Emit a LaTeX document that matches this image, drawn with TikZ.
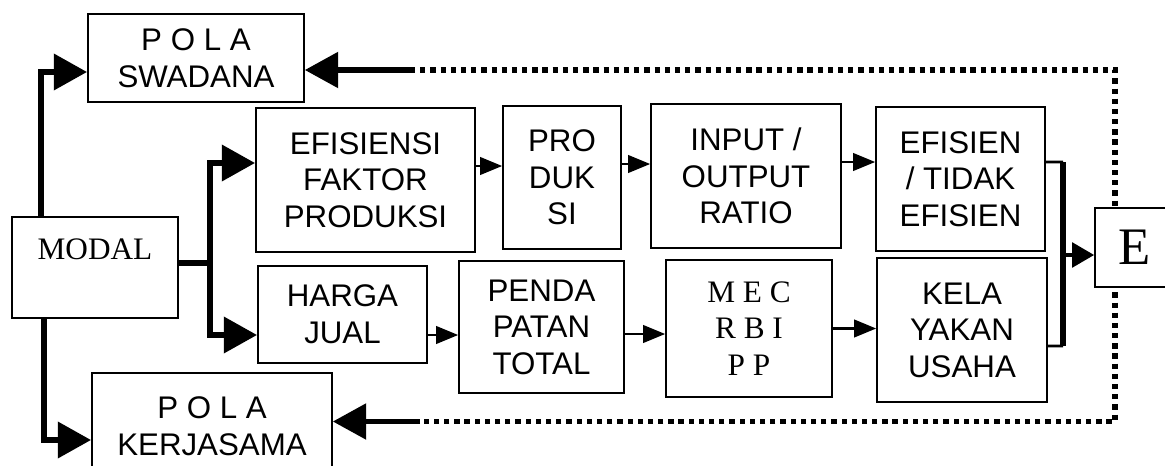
\documentclass[tikz,border=0pt]{standalone}
\usepackage{fontspec}
\setmainfont{Liberation Sans}
\newfontfamily\timesfont{Liberation Serif}
\usetikzlibrary{arrows.meta,positioning}

\begin{document}
\begin{tikzpicture}[x=0.02cm,y=-0.02cm,
  box/.style={draw, line width=1pt, fill=white, align=center, inner sep=0pt, font=\fontsize{17.8}{20.8}\selectfont},
  fat/.style={line width=3.8pt, -{Triangle[length=19pt,width=20pt]}},
  feed/.style={line width=3pt, -{Triangle[length=19pt,width=20pt]}},
  thin/.style={line width=1.2pt, -{Triangle[length=12.5pt,width=10pt]}},
  dots/.style={line width=3pt, dash pattern=on 3pt off 2.8pt}]
  \clip (0,0) rectangle (1165,466);

  % left column
  \node[box, minimum width=4.32cm, minimum height=1.76cm] (swadana) at (196,58) {P O L A\\SWADANA};
  \node[box, minimum width=3.32cm, minimum height=2.02cm, font=\timesfont\fontsize{17.8}{20.8}\selectfont] (modal) at (95,267.5) {MODAL\\\mbox{}};
  \node[box, minimum width=4.8cm, minimum height=2.14cm] (kerjasama) at (212,426.5) {P O L A\\KERJASAMA};

  % upper row
  \node[box, minimum width=4.38cm, minimum height=2.88cm] (efisiensi) at (365.5,180) {EFISIENSI\\FAKTOR\\PRODUKSI};
  \node[box, minimum width=2.36cm, minimum height=2.86cm] (produksi) at (562,177.5) {PRO\\DUK\\SI};
  \node[box, minimum width=3.8cm, minimum height=2.88cm] (ratio) at (746,176) {INPUT /\\OUTPUT\\RATIO};
  \node[box, minimum width=3.38cm, minimum height=2.88cm] (efisien) at (960.5,179) {EFISIEN\\/ TIDAK\\EFISIEN};

  % lower row
  \node[box, minimum width=3.38cm, minimum height=1.94cm] (harga) at (342.5,314.5) {HARGA\\JUAL};
  \node[box, minimum width=3.3cm, minimum height=2.64cm] (pendapatan) at (541.5,327) {PENDA\\PATAN\\TOTAL};
  \node[box, minimum width=3.32cm, minimum height=2.74cm, font=\timesfont\fontsize{17.8}{20.8}\selectfont] (mec) at (749,328.5) {M E C\\R B I\\P P};
  \node[box, minimum width=3.4cm, minimum height=2.88cm] (kelayakan) at (962,330) {KELA\\YAKAN\\USAHA};

  % from MODAL
  \draw[fat] ([xshift=0.6cm]modal.north west) |- ([yshift=-0.28cm]swadana.west);
  \draw[fat] ([xshift=0.66cm]modal.south west) |- ([yshift=-0.27cm]kerjasama.west);
  \coordinate (split) at (210,263);
  \draw[line width=3.8pt] (modal.east |- split) -- (split);
  \draw[fat] (split) |- ([yshift=0.34cm]efisiensi.west);
  \draw[fat] (split) |- ([yshift=-0.41cm]harga.west);

  % chains
  \draw[thin] ([yshift=0.28cm]efisiensi.east) -- ([yshift=0.28cm]efisiensi.east -| produksi.west);
  \draw[thin] ([yshift=0.27cm]produksi.east) -- ([yshift=0.27cm]produksi.east -| ratio.west);
  \draw[thin] ([yshift=0.28cm]ratio.east) -- ([yshift=0.28cm]ratio.east -| efisien.west);
  \draw[thin] ([yshift=-0.41cm]harga.east) -- ([yshift=-0.41cm]harga.east -| pendapatan.west);
  \draw[thin] ([yshift=-0.14cm]pendapatan.east) -- ([yshift=-0.14cm]pendapatan.east -| mec.west);
  \draw[thin] (mec.east) -- (mec.east -| kelayakan.west);

  % feedback
  \coordinate (fbtop) at (410,70);
  \coordinate (fbbot) at (420,421.5);
  \coordinate (ne) at (1115,70);
  \coordinate (se) at (1115,421.5);
  \draw[dots] (fbtop) -- (ne) -- (se) -- (fbbot);
  \draw[feed] (fbtop) -- (fbtop -| swadana.east);
  \draw[feed] (fbbot) -- (fbbot -| kerjasama.east);

  % bracket and E
  \node[box, minimum width=1.6cm, minimum height=1.58cm, font=\timesfont\fontsize{30}{30}\selectfont] (ebox) at (1135,247.5) {E};
  \coordinate (bartop) at (1063,162);
  \coordinate (barbot) at (1063,346);
  \coordinate (barmid) at (1063,255);
  \draw[line width=1.5pt] ([yshift=0.34cm]efisien.east) -- (bartop);
  \draw[line width=1.5pt] ([yshift=-0.32cm]kelayakan.east) -- (barbot);
  \draw[line width=3pt] (bartop) -- (barbot);
  \draw[line width=2pt, -{Triangle[length=12.5pt,width=14pt]}] (barmid) -- (barmid -| ebox.west);
\end{tikzpicture}
\end{document}
